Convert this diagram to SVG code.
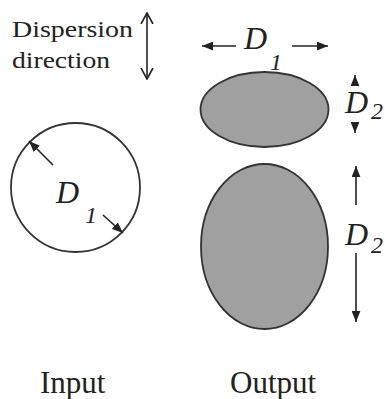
<svg xmlns="http://www.w3.org/2000/svg" width="385" height="399" viewBox="0 0 385 399">
<style>
.lbl{font-family:"Liberation Serif","Times New Roman",serif;fill:#222}
.d{font-style:italic;font-size:32px}
.sub{font-style:italic;font-size:24px}
.ln{stroke:#222;stroke-width:1.6;fill:none}
.shape{stroke:#333;stroke-width:1.8}
</style>
<defs>
<marker id="ah" viewBox="0 0 10 8" refX="10" refY="4" markerWidth="11" markerHeight="9" markerUnits="userSpaceOnUse" orient="auto">
<path d="M0,0 L10,4 L0,8 Z" fill="#222"/>
</marker>
<marker id="open" viewBox="0 0 12 12" refX="11" refY="6" markerWidth="12" markerHeight="20" markerUnits="userSpaceOnUse" orient="auto">
<path d="M0,0 L11,6 L0,12" fill="none" stroke="#222" stroke-width="1.6"/>
</marker>
</defs>
<rect width="385" height="399" fill="#fff"/>

<g id="legend">
<text class="lbl" x="12" y="37" font-size="23" textLength="121" lengthAdjust="spacingAndGlyphs">Dispersion</text>
<text class="lbl" x="12" y="68" font-size="23" textLength="98" lengthAdjust="spacingAndGlyphs">direction</text>
</g>

<g id="input">
<circle class="shape" cx="75.5" cy="187.5" r="64.5" fill="#fff"/>
<text class="lbl d" x="56" y="203">D</text>
<text class="lbl sub" x="85" y="223">1</text>
<text class="lbl" x="40" y="393" font-size="31">Input</text>
</g>

<g id="output-top">
<ellipse class="shape" cx="264.5" cy="109.5" rx="64" ry="37.5" fill="#a0a0a0"/>
<text class="lbl d" x="244" y="49">D</text>
<text class="lbl sub" x="270" y="70">1</text>
<text class="lbl d" x="345" y="113">D</text>
<text class="lbl sub" x="371" y="119">2</text>
</g>

<g id="output-bottom">
<ellipse class="shape" cx="264.5" cy="246.5" rx="63.5" ry="82.5" fill="#a0a0a0"/>
<text class="lbl d" x="345" y="245">D</text>
<text class="lbl sub" x="371" y="253">2</text>
<text class="lbl" x="230" y="393" font-size="31">Output</text>
</g>

<g id="connectors">
<line class="ln" x1="147" y1="46" x2="147" y2="13" marker-end="url(#open)"/>
<line class="ln" x1="147" y1="46" x2="147" y2="79" marker-end="url(#open)"/>
<line class="ln" x1="53" y1="165" x2="29" y2="141" marker-end="url(#ah)"/>
<line class="ln" x1="103" y1="215" x2="123" y2="233" marker-end="url(#ah)"/>
<line class="ln" x1="236" y1="46" x2="202" y2="46" marker-end="url(#ah)"/>
<line class="ln" x1="292" y1="46" x2="328" y2="46" marker-end="url(#ah)"/>
<line class="ln" x1="355" y1="81" x2="355" y2="75" marker-end="url(#ah)" stroke-width="0.5"/>
<line class="ln" x1="355" y1="127" x2="355" y2="133" marker-end="url(#ah)" stroke-width="0.5"/>
<line class="ln" x1="356" y1="205" x2="356" y2="166" marker-end="url(#ah)"/>
<line class="ln" x1="356" y1="253" x2="356" y2="322" marker-end="url(#ah)"/>
</g>
</svg>
